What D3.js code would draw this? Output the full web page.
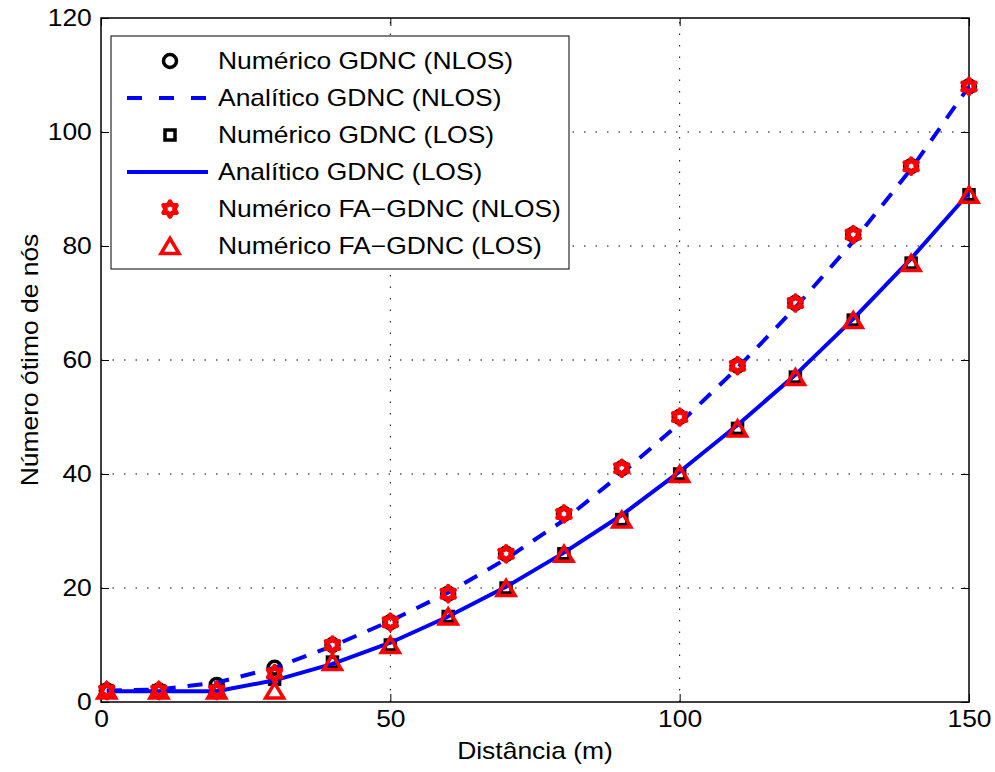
<!DOCTYPE html>
<html>
<head>
<meta charset="utf-8">
<script src="https://cdn.jsdelivr.net/npm/d3@7"></script>
<style>
  body { margin: 0; background: #fff; }
  svg { display: block; }
  text { font-family: "Liberation Sans", Arial, Helvetica, sans-serif; fill: #000; }
</style>
</head>
<body>
<svg id="chart" width="995" height="772"></svg>
<script>
const distances = [1, 10, 20, 30, 40, 50, 60, 70, 80, 90, 100, 110, 120, 130, 140, 150];
const numNlos   = [2, 2, 3, 6, 10, 14, 19, 26, 33, 41, 50, 59, 70, 82, 94, 108];
const anaNlos   = [2, 2.2, 3.4, 6, 9.8, 14.2, 19.2, 25.1, 31.9, 40.1, 48.9, 58.6, 69.2, 80.8, 93.5, 108];
const numLos    = [2, 2, 2, 4, 7, 10, 15, 20, 26, 32, 40, 48, 57, 67, 77, 89];
const anaLos    = [1.9, 1.9, 1.9, 3.8, 6.7, 10.4, 15, 20.2, 26.2, 32.8, 40.4, 48.6, 57.4, 67.2, 77.8, 89.3];
const faNlos    = [2, 2, 2, 5, 10, 14, 19, 26, 33, 41, 50, 59, 70, 82, 94, 108];
const faLos     = [2, 2, 2, 2, 7, 10, 15, 20, 26, 32, 40, 48, 57, 67, 77, 89];
const xTicks = [0, 50, 100, 150];
const yTicks = [0, 20, 40, 60, 80, 100, 120];
const legendLabels = [
  'Numérico GDNC (NLOS)',
  'Analítico GDNC (NLOS)',
  'Numérico GDNC (LOS)',
  'Analítico GDNC (LOS)',
  'Numérico FA\u2212GDNC (NLOS)',
  'Numérico FA\u2212GDNC (LOS)'
];

const plotLeft = 101, plotRight = 969, plotTop = 18, plotBottom = 702;
const fontSize = 23, stretch = 1.15;
const blue = '#0000ff', red = '#ff0000';

const svg = d3.select('#chart');
const x = d3.scaleLinear().domain([0, 150]).range([plotLeft, plotRight]);
const y = d3.scaleLinear().domain([0, 120]).range([plotBottom, plotTop]);

// grid
const grid = svg.append('g')
  .attr('stroke', '#000')
  .attr('stroke-width', 1)
  .attr('stroke-dasharray', '1.5,10');
grid.selectAll('.gx').data(xTicks.slice(1, -1)).enter().append('line')
  .attr('x1', d => x(d)).attr('x2', d => x(d))
  .attr('y1', plotBottom).attr('y2', plotTop);
grid.selectAll('.gy').data(yTicks.slice(1, -1)).enter().append('line')
  .attr('x1', plotLeft).attr('x2', plotRight)
  .attr('y1', d => y(d)).attr('y2', d => y(d));

// axes, ticks inside like matlab
const styleAxis = g => {
  g.select('.domain').remove();
  g.selectAll('line').attr('stroke', '#000').attr('stroke-width', 1);
  g.selectAll('text')
    .attr('font-size', fontSize)
    .attr('font-family', '"Liberation Sans", Arial, sans-serif')
    .attr('fill', '#000');
};
svg.append('g').attr('transform', `translate(0,${plotBottom})`)
  .call(d3.axisBottom(x).tickValues(xTicks).tickSize(-8).tickPadding(9))
  .call(styleAxis)
  .call(g => g.selectAll('text').attr('transform', `scale(${stretch},1)`));
svg.append('g').attr('transform', `translate(${plotLeft},0)`)
  .call(d3.axisLeft(y).tickValues(yTicks).tickSize(-8).tickPadding(8))
  .call(styleAxis)
  .call(g => g.selectAll('text').attr('transform', `scale(${stretch},1)`));
svg.append('g').attr('transform', `translate(0,${plotTop})`)
  .call(d3.axisTop(x).tickValues(xTicks).tickSize(-8).tickFormat(''))
  .call(styleAxis);
svg.append('g').attr('transform', `translate(${plotRight},0)`)
  .call(d3.axisRight(y).tickValues(yTicks).tickSize(-8).tickFormat(''))
  .call(styleAxis);

svg.append('rect')
  .attr('x', plotLeft).attr('y', plotTop)
  .attr('width', plotRight - plotLeft).attr('height', plotBottom - plotTop)
  .attr('fill', 'none').attr('stroke', '#000').attr('stroke-width', 1.5);

// axis titles
svg.append('text')
  .attr('transform', `translate(${(plotLeft + plotRight) / 2},759) scale(${stretch},1)`)
  .attr('text-anchor', 'middle').attr('font-size', fontSize)
  .text('Distância (m)');
svg.append('text')
  .attr('transform', `translate(38,${(plotTop + plotBottom) / 2}) rotate(-90) scale(${stretch},1)`)
  .attr('text-anchor', 'middle').attr('font-size', fontSize)
  .text('Número ótimo de nós');

// marker shapes
const hexagram = (R) => {
  const r = R / Math.sqrt(3);
  const pts = [];
  for (let i = 0; i < 12; i++) {
    const a = -Math.PI / 2 + i * Math.PI / 6;
    const rr = i % 2 === 0 ? R : r;
    pts.push([rr * Math.cos(a), rr * Math.sin(a)]);
  }
  return 'M' + pts.map(p => p.join(',')).join('L') + 'Z';
};
const triangle = (w, h) => `M0,${-h / 2}L${w / 2},${h / 2}L${-w / 2},${h / 2}Z`;

const markers = {
  circle: g => g.append('circle').attr('r', 6.5).attr('fill', 'none')
    .attr('stroke', '#000').attr('stroke-width', 3.5),
  square: g => g.append('rect').attr('x', -5).attr('y', -5).attr('width', 10).attr('height', 10)
    .attr('fill', 'none').attr('stroke', '#000').attr('stroke-width', 3.5),
  hexagram: g => g.append('path').attr('d', hexagram(7.5)).attr('fill', 'none')
    .attr('stroke', red).attr('stroke-width', 4.5).attr('stroke-linejoin', 'round'),
  triangle: g => g.append('path').attr('d', triangle(18, 15)).attr('fill', 'none')
    .attr('stroke', red).attr('stroke-width', 3.5).attr('stroke-linejoin', 'miter')
};

const line = d3.line().x(d => x(d[0])).y(d => y(d[1]));
const pairs = vals => distances.map((d, i) => [d, vals[i]]);

const drawMarkers = (vals, kind) => {
  svg.append('g').selectAll('g').data(pairs(vals)).enter().append('g')
    .attr('transform', d => `translate(${x(d[0])},${y(d[1])})`)
    .each(function () { markers[kind](d3.select(this)); });
};
const drawLine = (vals, dash) => {
  svg.append('path').datum(pairs(vals))
    .attr('d', line).attr('fill', 'none')
    .attr('stroke', blue).attr('stroke-width', 4)
    .attr('stroke-dasharray', dash);
};

drawMarkers(numNlos, 'circle');
drawLine(anaNlos, '15,12');
drawMarkers(numLos, 'square');
drawLine(anaLos, null);
drawMarkers(faNlos, 'hexagram');
drawMarkers(faLos, 'triangle');

// legend
const legend = svg.append('g');
legend.append('rect')
  .attr('x', 111).attr('y', 36).attr('width', 458).attr('height', 233)
  .attr('fill', '#fff').attr('stroke', '#000').attr('stroke-width', 1);
const kinds = ['circle', 'dash', 'square', 'solid', 'hexagram', 'triangle'];
const rowY = d3.scaleLinear().domain([0, 5]).range([61, 246]);
kinds.forEach((k, i) => {
  const cy = rowY(i);
  if (k === 'dash' || k === 'solid') {
    legend.append('line')
      .attr('x1', 127).attr('x2', 208).attr('y1', cy).attr('y2', cy)
      .attr('stroke', blue).attr('stroke-width', 4)
      .attr('stroke-dasharray', k === 'dash' ? '15,17' : null);
  } else {
    const g = legend.append('g').attr('transform', `translate(170,${cy})`);
    markers[k](g);
  }
  legend.append('text')
    .attr('transform', `translate(218,${cy + 8}) scale(${stretch},1)`)
    .attr('font-size', fontSize)
    .text(legendLabels[i]);
});
</script>
</body>
</html>
